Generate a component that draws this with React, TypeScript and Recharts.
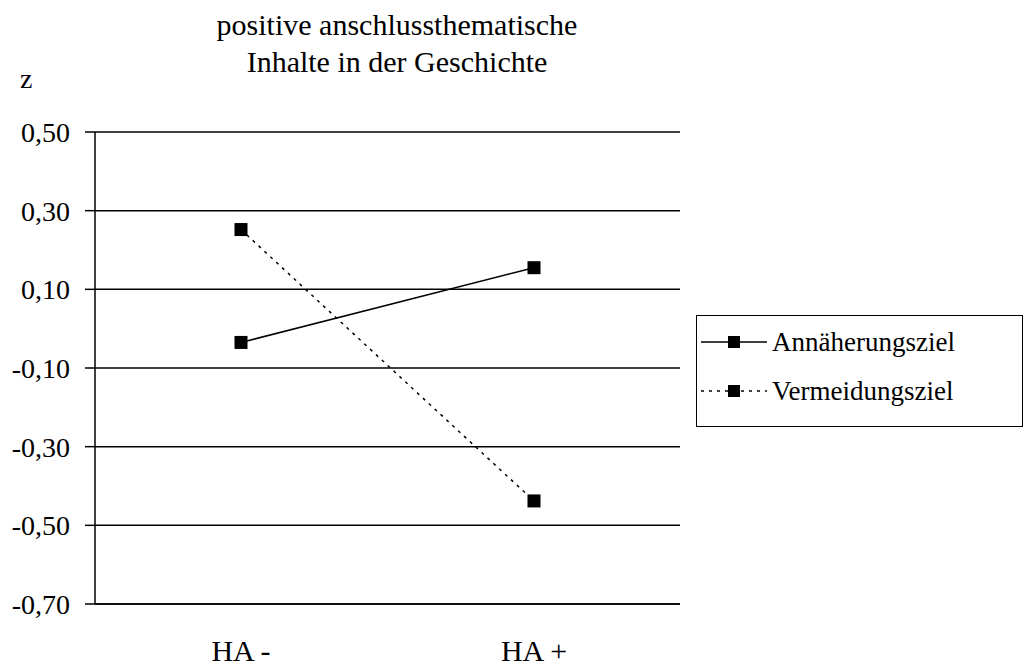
import React from "react";
import { LineChart, Line, XAxis, YAxis, CartesianGrid, Legend } from "recharts";

const categories = ["HA -", "HA +"];
const annaeherung = [-0.035, 0.155];
const vermeidung = [0.252, -0.438];
const yTicks = [-0.7, -0.5, -0.3, -0.1, 0.1, 0.3, 0.5];
const titleLines = ["positive anschlussthematische", "Inhalte in der Geschichte"];

const series = [
  { key: "ann", name: "Annäherungsziel", dash: undefined as string | undefined },
  { key: "verm", name: "Vermeidungsziel", dash: "3 5" },
];

const data = categories.map((c, i) => ({ cat: c, ann: annaeherung[i], verm: vermeidung[i] }));

const FONT = "Liberation Serif, Tinos, DejaVu Serif, serif";

const SquareDot = (props: any) => {
  const { cx, cy } = props;
  if (cx == null || cy == null) return null;
  return <rect x={cx - 6.5} y={cy - 6.5} width={13} height={13} fill="#000" />;
};

// legend rows sit at 26px and 75px from the top of the box
const LegendBox = () => (
  <div
    style={{
      position: "relative",
      width: 327,
      height: 112,
      border: "1.5px solid #000",
      boxSizing: "border-box",
      background: "#fff",
      fontFamily: FONT,
      fontSize: 27,
    }}
  >
    {series.map((s, i) => (
      <div
        key={s.key}
        style={{ position: "absolute", left: 0, top: (i === 0 ? 26 : 75) - 20, height: 40, display: "flex", alignItems: "center" }}
      >
        <svg width={70} height={20} style={{ marginLeft: 2, flex: "none" }}>
          <line x1={2} x2={68} y1={10} y2={10} stroke="#000" strokeWidth={1.5} strokeDasharray={s.dash} />
          <rect x={29} y={4} width={12} height={12} fill="#000" />
        </svg>
        <span style={{ color: "#000", marginLeft: 3, whiteSpace: "nowrap" }}>{s.name}</span>
      </div>
    ))}
  </div>
);

export default function App() {
  return (
    <div style={{ position: "relative", width: 1025, height: 667, background: "#fff", fontFamily: FONT }}>
      <style>{`body{margin:0}`}</style>
      <LineChart width={1025} height={667} data={data} margin={{ top: 132, right: 345, left: 10, bottom: 0 }}>
        <CartesianGrid vertical={false} stroke="#000" strokeWidth={1.5} />
        <XAxis
          dataKey="cat"
          padding={{ left: 146, right: 146 }}
          axisLine={{ stroke: "#000", strokeWidth: 1.5 }}
          tickLine={false}
          tickSize={0}
          tickMargin={36}
          height={63}
          tick={{ fill: "#000", fontSize: 30, fontFamily: FONT }}
        />
        <YAxis
          type="number"
          domain={[-0.7, 0.5]}
          ticks={yTicks}
          interval={0}
          width={85}
          axisLine={{ stroke: "#000", strokeWidth: 1.5 }}
          tickLine={{ stroke: "#000", strokeWidth: 1.5 }}
          tickSize={10}
          tickMargin={15}
          tickFormatter={(v: number) => v.toFixed(2).replace(".", ",")}
          tick={{ fill: "#000", fontSize: 28, fontFamily: FONT }}
        />
        <Legend
          layout="horizontal"
          verticalAlign="middle"
          align="center"
          content={() => <LegendBox />}
          wrapperStyle={{ position: "absolute", left: 696, top: 315, width: 327, height: 112 }}
        />
        {series.map((s) => (
          <Line
            key={s.key}
            dataKey={s.key}
            name={s.name}
            stroke="#000"
            strokeWidth={1.5}
            strokeDasharray={s.dash}
            dot={<SquareDot />}
            activeDot={false}
            isAnimationActive={false}
          />
        ))}
      </LineChart>
      <svg width={1025} height={100} style={{ position: "absolute", left: 0, top: 0, pointerEvents: "none" }}>
        <text x={397} y={35} textAnchor="middle" fontFamily={FONT} fontSize={30} fill="#000">
          {titleLines[0]}
        </text>
        <text x={397} y={72} textAnchor="middle" fontFamily={FONT} fontSize={30} fill="#000">
          {titleLines[1]}
        </text>
        <text x={20} y={88} fontFamily={FONT} fontSize={28} fill="#000">
          z
        </text>
      </svg>
    </div>
  );
}
